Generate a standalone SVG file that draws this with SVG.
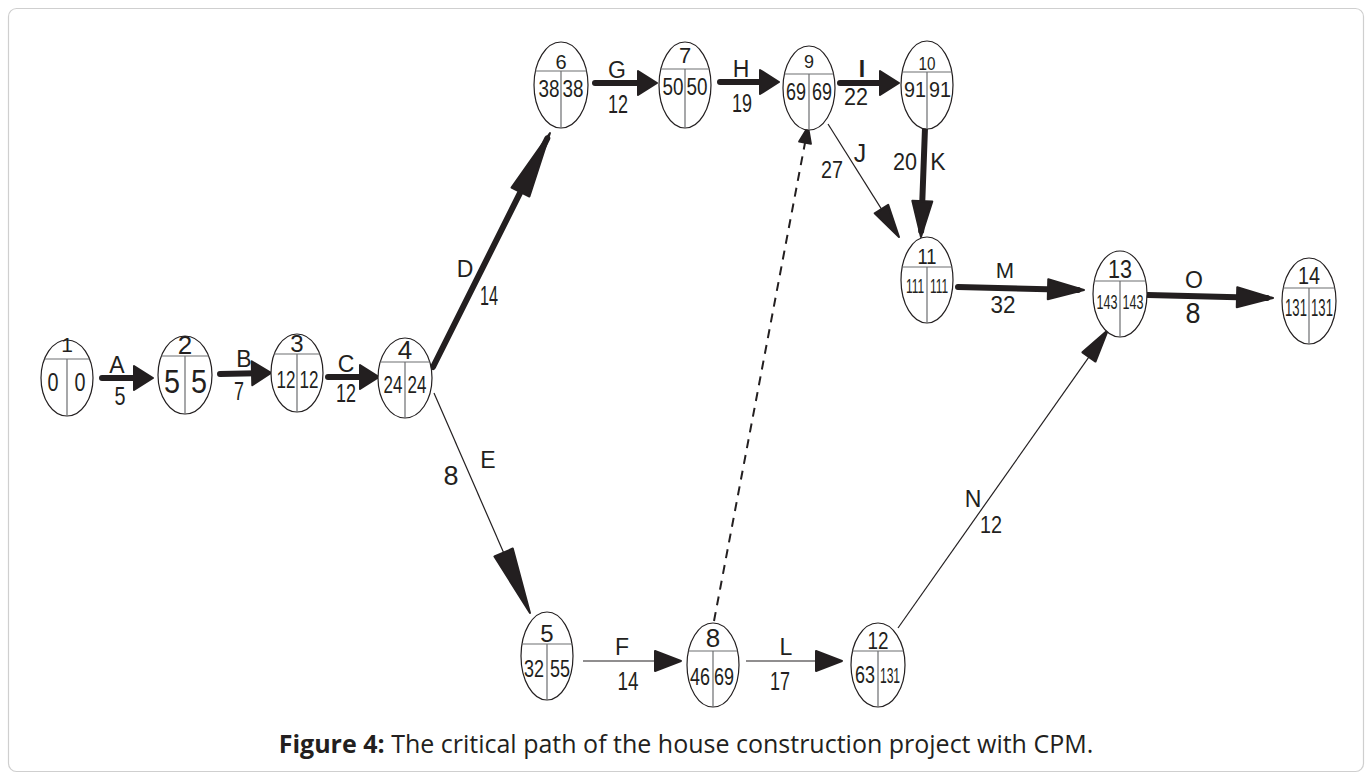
<svg xmlns="http://www.w3.org/2000/svg" width="1372" height="780" viewBox="0 0 1372 780">
<style>
.el{fill:#fff;stroke:#231f20;stroke-width:1.2}
.dv{stroke:#6d6e71;stroke-width:1.2;fill:none}
.t{font-family:"Liberation Sans Narrow","Liberation Sans",Arial,sans-serif;fill:#231f20;text-anchor:middle}
.thick{stroke:#231f20;stroke-width:6;stroke-linecap:round;fill:none}
.thin{stroke:#231f20;stroke-width:1.2;fill:none}
.dash{stroke:#231f20;stroke-width:2;stroke-dasharray:9 7;fill:none}
.hd{fill:#231f20;stroke:#231f20;stroke-width:2;stroke-linejoin:round}
.cap{font-family:"Open Sans","Liberation Sans",sans-serif;font-size:25px;fill:#231f20;text-anchor:middle}
</style>
<defs>
<marker id="hs" markerUnits="userSpaceOnUse" orient="auto" viewBox="-2 -14 23 28" markerWidth="23" markerHeight="28" refX="13" refY="0"><path class="hd" d="M0,-12 L19,0 L0,12 Z"/></marker>
<marker id="hm" markerUnits="userSpaceOnUse" orient="auto" viewBox="-2 -12 40 24" markerWidth="40" markerHeight="24" refX="30" refY="0"><path class="hd" d="M0,-10 L36,0 L0,10 Z"/></marker>
<marker id="hl" markerUnits="userSpaceOnUse" orient="auto" viewBox="-2 -12 70 24" markerWidth="70" markerHeight="24" refX="60" refY="0"><path class="hd" d="M0,-10 L66,0 L0,10 Z"/></marker>
<marker id="ht" markerUnits="userSpaceOnUse" orient="auto" viewBox="-2 -12 30 24" markerWidth="30" markerHeight="24" refX="20" refY="0"><path class="hd" d="M0,-10 L26,0 L0,10 Z"/></marker>
<marker id="hn" markerUnits="userSpaceOnUse" orient="auto" viewBox="-2 -10 37 20" markerWidth="37" markerHeight="20" refX="27" refY="0"><path class="hd" d="M0,-8 L33,0 L0,8 Z"/></marker>
<marker id="hd" markerUnits="userSpaceOnUse" orient="auto" viewBox="-2 -8 20 16" markerWidth="20" markerHeight="16" refX="10" refY="0"><path class="hd" d="M0,-6 L16,0 L0,6 Z"/></marker>
</defs>
<rect x="8.5" y="8.5" width="1355" height="763" rx="8" fill="#fff" stroke="#cfcfcf" stroke-width="1.2"/>

<g id="connectors">
<line class="thick" x1="102" y1="378" x2="147" y2="378" marker-end="url(#hs)"/>
<line class="thick" x1="220" y1="374" x2="265" y2="373" marker-end="url(#hs)"/>
<line class="thick" x1="328" y1="377" x2="373" y2="377" marker-end="url(#hs)"/>
<line class="thick" x1="595" y1="83" x2="651" y2="83" marker-end="url(#hs)"/>
<line class="thick" x1="720" y1="82" x2="773" y2="82" marker-end="url(#hs)"/>
<line class="thick" x1="840" y1="83" x2="893" y2="83" marker-end="url(#hs)"/>
<line class="thick" x1="433" y1="367" x2="547.3" y2="138.4" marker-end="url(#hl)"/>
<line class="thin" x1="434" y1="393" x2="527.6" y2="607.5" marker-end="url(#hl)"/>
<line class="thin" x1="583" y1="661" x2="675" y2="661" marker-end="url(#ht)"/>
<line class="thin" x1="746" y1="661" x2="836" y2="661" marker-end="url(#ht)"/>
<line class="thin" x1="898" y1="628" x2="1104.5" y2="334.9" marker-end="url(#hn)"/>
<line class="thin" x1="828" y1="124" x2="895.8" y2="231.9" marker-end="url(#hn)"/>
<line class="thick" x1="925" y1="128" x2="921.2" y2="231" marker-end="url(#hm)"/>
<line class="thick" x1="958" y1="287" x2="1078" y2="289.9" marker-end="url(#hm)"/>
<line class="thick" x1="1148" y1="295" x2="1267" y2="297.9" marker-end="url(#hm)"/>
<line class="dash" x1="714" y1="621" x2="806.9" y2="132.9" marker-end="url(#hd)"/>
<g class="t" font-size="23">
<text x="117" y="373">A</text><text x="120" y="405" font-size="25" textLength="11" lengthAdjust="spacingAndGlyphs">5</text>
<text x="244" y="367">B</text><text x="239" y="400" font-size="25" textLength="10" lengthAdjust="spacingAndGlyphs">7</text>
<text x="346" y="372">C</text><text x="346" y="402" font-size="25" textLength="20" lengthAdjust="spacingAndGlyphs">12</text>
<text x="617" y="78">G</text><text x="618" y="113" font-size="25" textLength="20" lengthAdjust="spacingAndGlyphs">12</text>
<text x="741" y="77">H</text><text x="742" y="112" font-size="25" textLength="20" lengthAdjust="spacingAndGlyphs">19</text>
<text x="862" y="77" font-weight="bold">I</text><text x="856" y="105" font-size="24" textLength="24" lengthAdjust="spacingAndGlyphs">22</text>
<text x="465" y="277">D</text><text x="489" y="305" font-size="28" textLength="18" lengthAdjust="spacingAndGlyphs">14</text>
<text x="488" y="468">E</text><text x="451" y="485" font-size="27">8</text>
<text x="622" y="655">F</text><text x="628" y="690" font-size="25" textLength="21" lengthAdjust="spacingAndGlyphs">14</text>
<text x="786" y="655">L</text><text x="780" y="690" font-size="25" textLength="20" lengthAdjust="spacingAndGlyphs">17</text>
<text x="860" y="162" font-size="25">J</text><text x="832" y="178" font-size="24" textLength="22" lengthAdjust="spacingAndGlyphs">27</text>
<text x="905" y="170" font-size="24" textLength="24" lengthAdjust="spacingAndGlyphs">20</text><text x="938" y="170">K</text>
<text x="1005" y="278" font-size="22">M</text><text x="1003" y="313" font-size="24" textLength="25" lengthAdjust="spacingAndGlyphs">32</text>
<text x="1194" y="288">O</text><text x="1193" y="323" font-size="29" textLength="15" lengthAdjust="spacingAndGlyphs">8</text>
<text x="973" y="507">N</text><text x="991" y="533" font-size="24" textLength="22" lengthAdjust="spacingAndGlyphs">12</text>
</g>
</g>

<g id="n1">
<ellipse class="el" cx="67" cy="378" rx="26" ry="38"/>
<path class="dv" d="M44.5,359 H89.5 M67,359 V416"/>
<text class="t" x="67" y="352" font-size="21">1</text>
<text class="t" x="53" y="391" font-size="26" textLength="11" lengthAdjust="spacingAndGlyphs">0</text><text class="t" x="80" y="391" font-size="26" textLength="11" lengthAdjust="spacingAndGlyphs">0</text>
</g>
<g id="n2">
<ellipse class="el" cx="185" cy="375" rx="27" ry="39"/>
<path class="dv" d="M161.4,356 H208.6 M185,356 V414"/>
<text class="t" x="185" y="354" font-size="26">2</text>
<text class="t" x="172" y="393" font-size="34" textLength="16" lengthAdjust="spacingAndGlyphs">5</text><text class="t" x="199" y="393" font-size="34" textLength="16" lengthAdjust="spacingAndGlyphs">5</text>
</g>
<g id="n3">
<ellipse class="el" cx="297" cy="373" rx="26" ry="39"/>
<path class="dv" d="M274.3,354 H319.7 M297,354 V412"/>
<text class="t" x="297" y="352" font-size="24">3</text>
<text class="t" transform="translate(286 388) scale(0.71 1)" font-size="24">12</text><text class="t" transform="translate(309 388) scale(0.71 1)" font-size="24">12</text>
</g>
<g id="n4">
<ellipse class="el" cx="405" cy="378" rx="27" ry="40"/>
<path class="dv" d="M380.3,362 H429.7 M405,362 V418"/>
<text class="t" x="405" y="359" font-size="26">4</text>
<text class="t" transform="translate(393 393) scale(0.74 1)" font-size="23">24</text><text class="t" transform="translate(417 393) scale(0.74 1)" font-size="23">24</text>
</g>
<g id="n6">
<ellipse class="el" cx="561" cy="85" rx="27" ry="43"/>
<path class="dv" d="M535.5,71 H586.5 M561,71 V128"/>
<text class="t" x="561" y="69" font-size="20">6</text>
<text class="t" x="549" y="97" font-size="23" textLength="21" lengthAdjust="spacingAndGlyphs">38</text><text class="t" x="573" y="97" font-size="23" textLength="21" lengthAdjust="spacingAndGlyphs">38</text>
</g>
<g id="n7">
<ellipse class="el" cx="685" cy="85" rx="26" ry="43"/>
<path class="dv" d="M660.9,69 H709.1 M685,69 V128"/>
<text class="t" x="685" y="63" font-size="22">7</text>
<text class="t" x="673" y="95" font-size="23" textLength="21" lengthAdjust="spacingAndGlyphs">50</text><text class="t" x="697" y="95" font-size="23" textLength="21" lengthAdjust="spacingAndGlyphs">50</text>
</g>
<g id="n9">
<ellipse class="el" cx="809" cy="88" rx="26" ry="42"/>
<path class="dv" d="M784.5,74 H833.5 M809,74 V130"/>
<text class="t" x="809" y="68" font-size="18">9</text>
<text class="t" x="796" y="100" font-size="23" textLength="20" lengthAdjust="spacingAndGlyphs">69</text><text class="t" x="822" y="100" font-size="23" textLength="20" lengthAdjust="spacingAndGlyphs">69</text>
</g>
<g id="n10">
<ellipse class="el" cx="927" cy="85" rx="26" ry="44"/>
<path class="dv" d="M902.2,72 H951.8 M927,72 V129"/>
<text class="t" x="927" y="70" font-size="19" textLength="17" lengthAdjust="spacingAndGlyphs">10</text>
<text class="t" x="915" y="97" font-size="22" textLength="22" lengthAdjust="spacingAndGlyphs">91</text><text class="t" x="940" y="97" font-size="22" textLength="22" lengthAdjust="spacingAndGlyphs">91</text>
</g>
<g id="n11">
<ellipse class="el" cx="927" cy="280" rx="26" ry="43"/>
<path class="dv" d="M902.2,267 H951.8 M927,267 V323"/>
<text class="t" x="927" y="264" font-size="22" textLength="19" lengthAdjust="spacingAndGlyphs">11</text>
<text class="t" transform="translate(915 293) scale(0.57 1)" font-size="21">111</text><text class="t" transform="translate(939 293) scale(0.57 1)" font-size="21">111</text>
</g>
<g id="n13">
<ellipse class="el" cx="1120" cy="294" rx="27" ry="43"/>
<path class="dv" d="M1094.3,281 H1145.7 M1120,281 V337"/>
<text class="t" x="1120" y="278" font-size="26" textLength="24" lengthAdjust="spacingAndGlyphs">13</text>
<text class="t" transform="translate(1107 309) scale(0.6 1)" font-size="21">143</text><text class="t" transform="translate(1133 309) scale(0.6 1)" font-size="21">143</text>
</g>
<g id="n14">
<ellipse class="el" cx="1309" cy="301" rx="27" ry="43"/>
<path class="dv" d="M1283.3,288 H1334.7 M1309,288 V344"/>
<text class="t" x="1309" y="284" font-size="24" textLength="22" lengthAdjust="spacingAndGlyphs">14</text>
<text class="t" transform="translate(1296 316) scale(0.57 1)" font-size="23">131</text><text class="t" transform="translate(1322 316) scale(0.57 1)" font-size="23">131</text>
</g>
<g id="n5">
<ellipse class="el" cx="547" cy="656" rx="26" ry="44"/>
<path class="dv" d="M522,644 H572 M547,644 V700"/>
<text class="t" x="547" y="642" font-size="24">5</text>
<text class="t" x="534" y="677" font-size="23" textLength="20" lengthAdjust="spacingAndGlyphs">32</text><text class="t" x="560" y="677" font-size="23" textLength="20" lengthAdjust="spacingAndGlyphs">55</text>
</g>
<g id="n8">
<ellipse class="el" cx="713" cy="665" rx="26" ry="42"/>
<path class="dv" d="M688.5,651 H737.5 M713,651 V707"/>
<text class="t" x="713" y="647" font-size="26">8</text>
<text class="t" x="700" y="685" font-size="24" textLength="20" lengthAdjust="spacingAndGlyphs">46</text><text class="t" x="724" y="685" font-size="24" textLength="20" lengthAdjust="spacingAndGlyphs">69</text>
</g>
<g id="n12">
<ellipse class="el" cx="878" cy="665" rx="27" ry="42"/>
<path class="dv" d="M852.5,651 H903.5 M878,651 V707"/>
<text class="t" x="878" y="649" font-size="24" textLength="21" lengthAdjust="spacingAndGlyphs">12</text>
<text class="t" x="865" y="683" font-size="23" textLength="20" lengthAdjust="spacingAndGlyphs">63</text><text class="t" transform="translate(890 683) scale(0.55 1)" font-size="22">131</text>
</g>

<text class="cap" x="686" y="753"><tspan font-weight="bold">Figure 4:</tspan> The critical path of the house construction project with CPM.</text>
</svg>
